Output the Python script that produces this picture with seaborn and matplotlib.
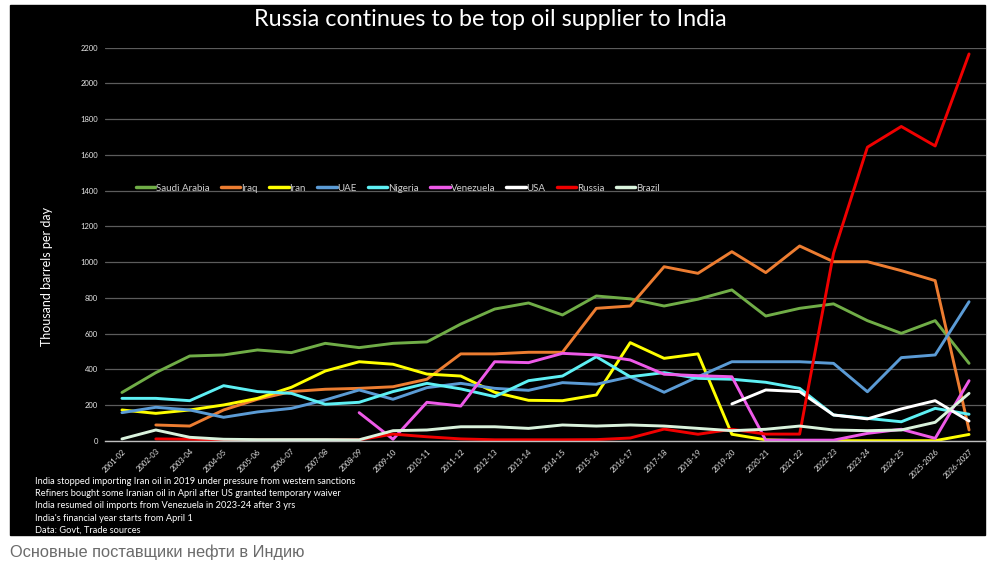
import numpy as np
import pandas as pd
import seaborn as sns
import matplotlib.pyplot as plt
from matplotlib.patches import Rectangle

# Daten: Tausend Barrel pro Tag, Geschäftsjahre Indiens
years = ["2001-02", "2002-03", "2003-04", "2004-05", "2005-06", "2006-07", "2007-08",
         "2008-09", "2009-10", "2010-11", "2011-12", "2012-13", "2013-14", "2014-15",
         "2015-16", "2016-17", "2017-18", "2018-19", "2019-20", "2020-21", "2021-22",
         "2022-23", "2023-24", "2024-25", "2025-2026", "2026-2027"]
nan = np.nan
saudi = [270, 381, 474, 480, 508, 493, 545, 521, 545, 553, 653, 737, 771, 704, 810, 794,
         754, 792, 844, 698, 741, 766, 672, 601, 672, 433]
iraq = [nan, 88, 82, 172, 232, 275, 288, 293, 302, 344, 486, 486, 495, 495, 741, 754,
        974, 937, 1058, 941, 1090, 1002, 1002, 952, 896, 60]
iran = [172, 153, 172, 200, 237, 299, 390, 442, 428, 373, 362, 271, 226, 224, 256, 549,
        461, 486, 36, 5, 0, 0, 0, 0, 0, 35]
uae = [157, 187, 172, 131, 161, 181, 228, 284, 232, 297, 321, 293, 282, 325, 316, 358,
       271, 358, 442, 442, 442, 433, 274, 465, 480, 778]
nigeria = [237, 237, 224, 308, 275, 265, 204, 215, 275, 321, 290, 247, 336, 362, 470, 358,
           381, 349, 344, 327, 293, 144, 125, 106, 181, 148]
venezuela = [nan, nan, nan, nan, nan, nan, nan, 157, 8, 215, 194, 442, 437, 489, 480, 452,
             372, 364, 358, 3, 3, 3, 41, 64, 13, 336]
usa = [nan] * 18 + [206, 284, 275, 144, 122, 178, 224, 110]
russia = [nan, 10, 8, 4, 4, 4, 4, 5, 37, 22, 10, 5, 5, 5, 6, 15, 65, 36, 64, 37, 37,
          1049, 1643, 1759, 1650, 2165]
brazil = [10, 60, 19, 8, 6, 6, 6, 5, 56, 60, 78, 78, 69, 88, 82, 88, 82, 69, 56, 64, 82,
          60, 56, 60, 103, 265]

series = {"Saudi Arabia": saudi, "Iraq": iraq, "Iran": iran, "UAE": uae,
          "Nigeria": nigeria, "Venezuela": venezuela, "USA": usa, "Russia": russia,
          "Brazil": brazil}
colors = {"Saudi Arabia": "#70ad47", "Iraq": "#ed7d31", "Iran": "#ffff00",
          "UAE": "#5b9bd5", "Nigeria": "#5ef0f4", "Venezuela": "#ee5ae8",
          "USA": "#ffffff", "Russia": "#f00000", "Brazil": "#d9f2dc"}

notes = ["India stopped importing Iran oil in 2019 under pressure from western sanctions",
         "Refiners bought some Iranian oil in April after US granted temporary waiver",
         "India resumed oil imports from Venezuela in 2023-24 after 3 yrs",
         "India's financial year starts from April 1",
         "Data: Govt, Trade sources"]

rows = []
for name, vals in series.items():
    for y, v in zip(years, vals):
        rows.append({"year": y, "country": name, "kbd": v})
df = pd.DataFrame(rows).dropna()

sns.set_theme(style="white")
plt.rcParams["font.family"] = ["Lato", "DejaVu Sans"]

W, H = 996, 567
fig = plt.figure(figsize=(W / 100, H / 100), dpi=100, facecolor="white")
fig.add_artist(Rectangle((10 / W, 1 - 535 / H), 975 / W, 530 / H,
                         transform=fig.transFigure, color="black", zorder=0))

ax = fig.add_axes([105 / W, 1 - 440.7 / H, 881 / W, 393 / H])
ax.set_facecolor("none")

sns.lineplot(data=df, x="year", y="kbd", hue="country", palette=colors,
             hue_order=list(series.keys()), estimator=None, sort=False,
             linewidth=2.1, ax=ax)

ax.set_xlim(-0.5, len(years) - 0.5)
ax.set_ylim(0, 2200)
ax.set_yticks(range(0, 2201, 200))
ax.yaxis.grid(True, color="#5c5c5c", linewidth=0.9)
ax.set_axisbelow(True)
for s in ["left", "right", "top"]:
    ax.spines[s].set_visible(False)
ax.spines["bottom"].set_color("#bfbfbf")
ax.spines["bottom"].set_linewidth(1.0)

ax.set_xticks(range(len(years)))
ax.set_xticklabels(years, rotation=45, ha="right", va="top", rotation_mode="anchor",
                   fontsize=5.5, color="#e6e6e6")
ax.set_xticks(np.arange(-0.5, len(years), 1), minor=True)
ax.tick_params(axis="x", which="major", length=0, pad=5)
ax.tick_params(axis="x", which="minor", length=3, width=0.8, color="#bfbfbf", direction="out")
ax.tick_params(axis="y", length=0, pad=5, labelsize=5.5, labelcolor="#e6e6e6")
ax.set_xlabel("")
ax.set_ylabel("")

fig.text(47 / W, 1 - 276 / H, "Thousand barrels per day", rotation=90, color="white",
         fontsize=9, ha="center", va="center")
fig.text(490 / W, 1 - 20 / H, "Russia continues to be top oil supplier to India",
         color="white", fontsize=16.8, ha="center", va="center")

handles, labels = ax.get_legend_handles_labels()
ax.legend(handles, labels, ncol=9, frameon=False, loc="center left",
          bbox_to_anchor=(0.025, 0.643), fontsize=7, labelcolor="#d0d0d0",
          handlelength=2.0, handletextpad=0.1, columnspacing=1.15)
for line in ax.get_legend().get_lines():
    line.set_linewidth(2.5)

for k, t in enumerate(notes):
    fig.text(35 / W, 1 - (481.5 + 12.2 * k) / H, t, color="white", fontsize=6.7,
             ha="left", va="center")

fig.text(10 / W, 1 - 552 / H, "Основные поставщики нефти в Индию", color="#6b6b6b",
         fontsize=11.8, ha="left", va="center", family=["Liberation Sans", "DejaVu Sans"])

fig.savefig("out.png", dpi=100, facecolor="white")
